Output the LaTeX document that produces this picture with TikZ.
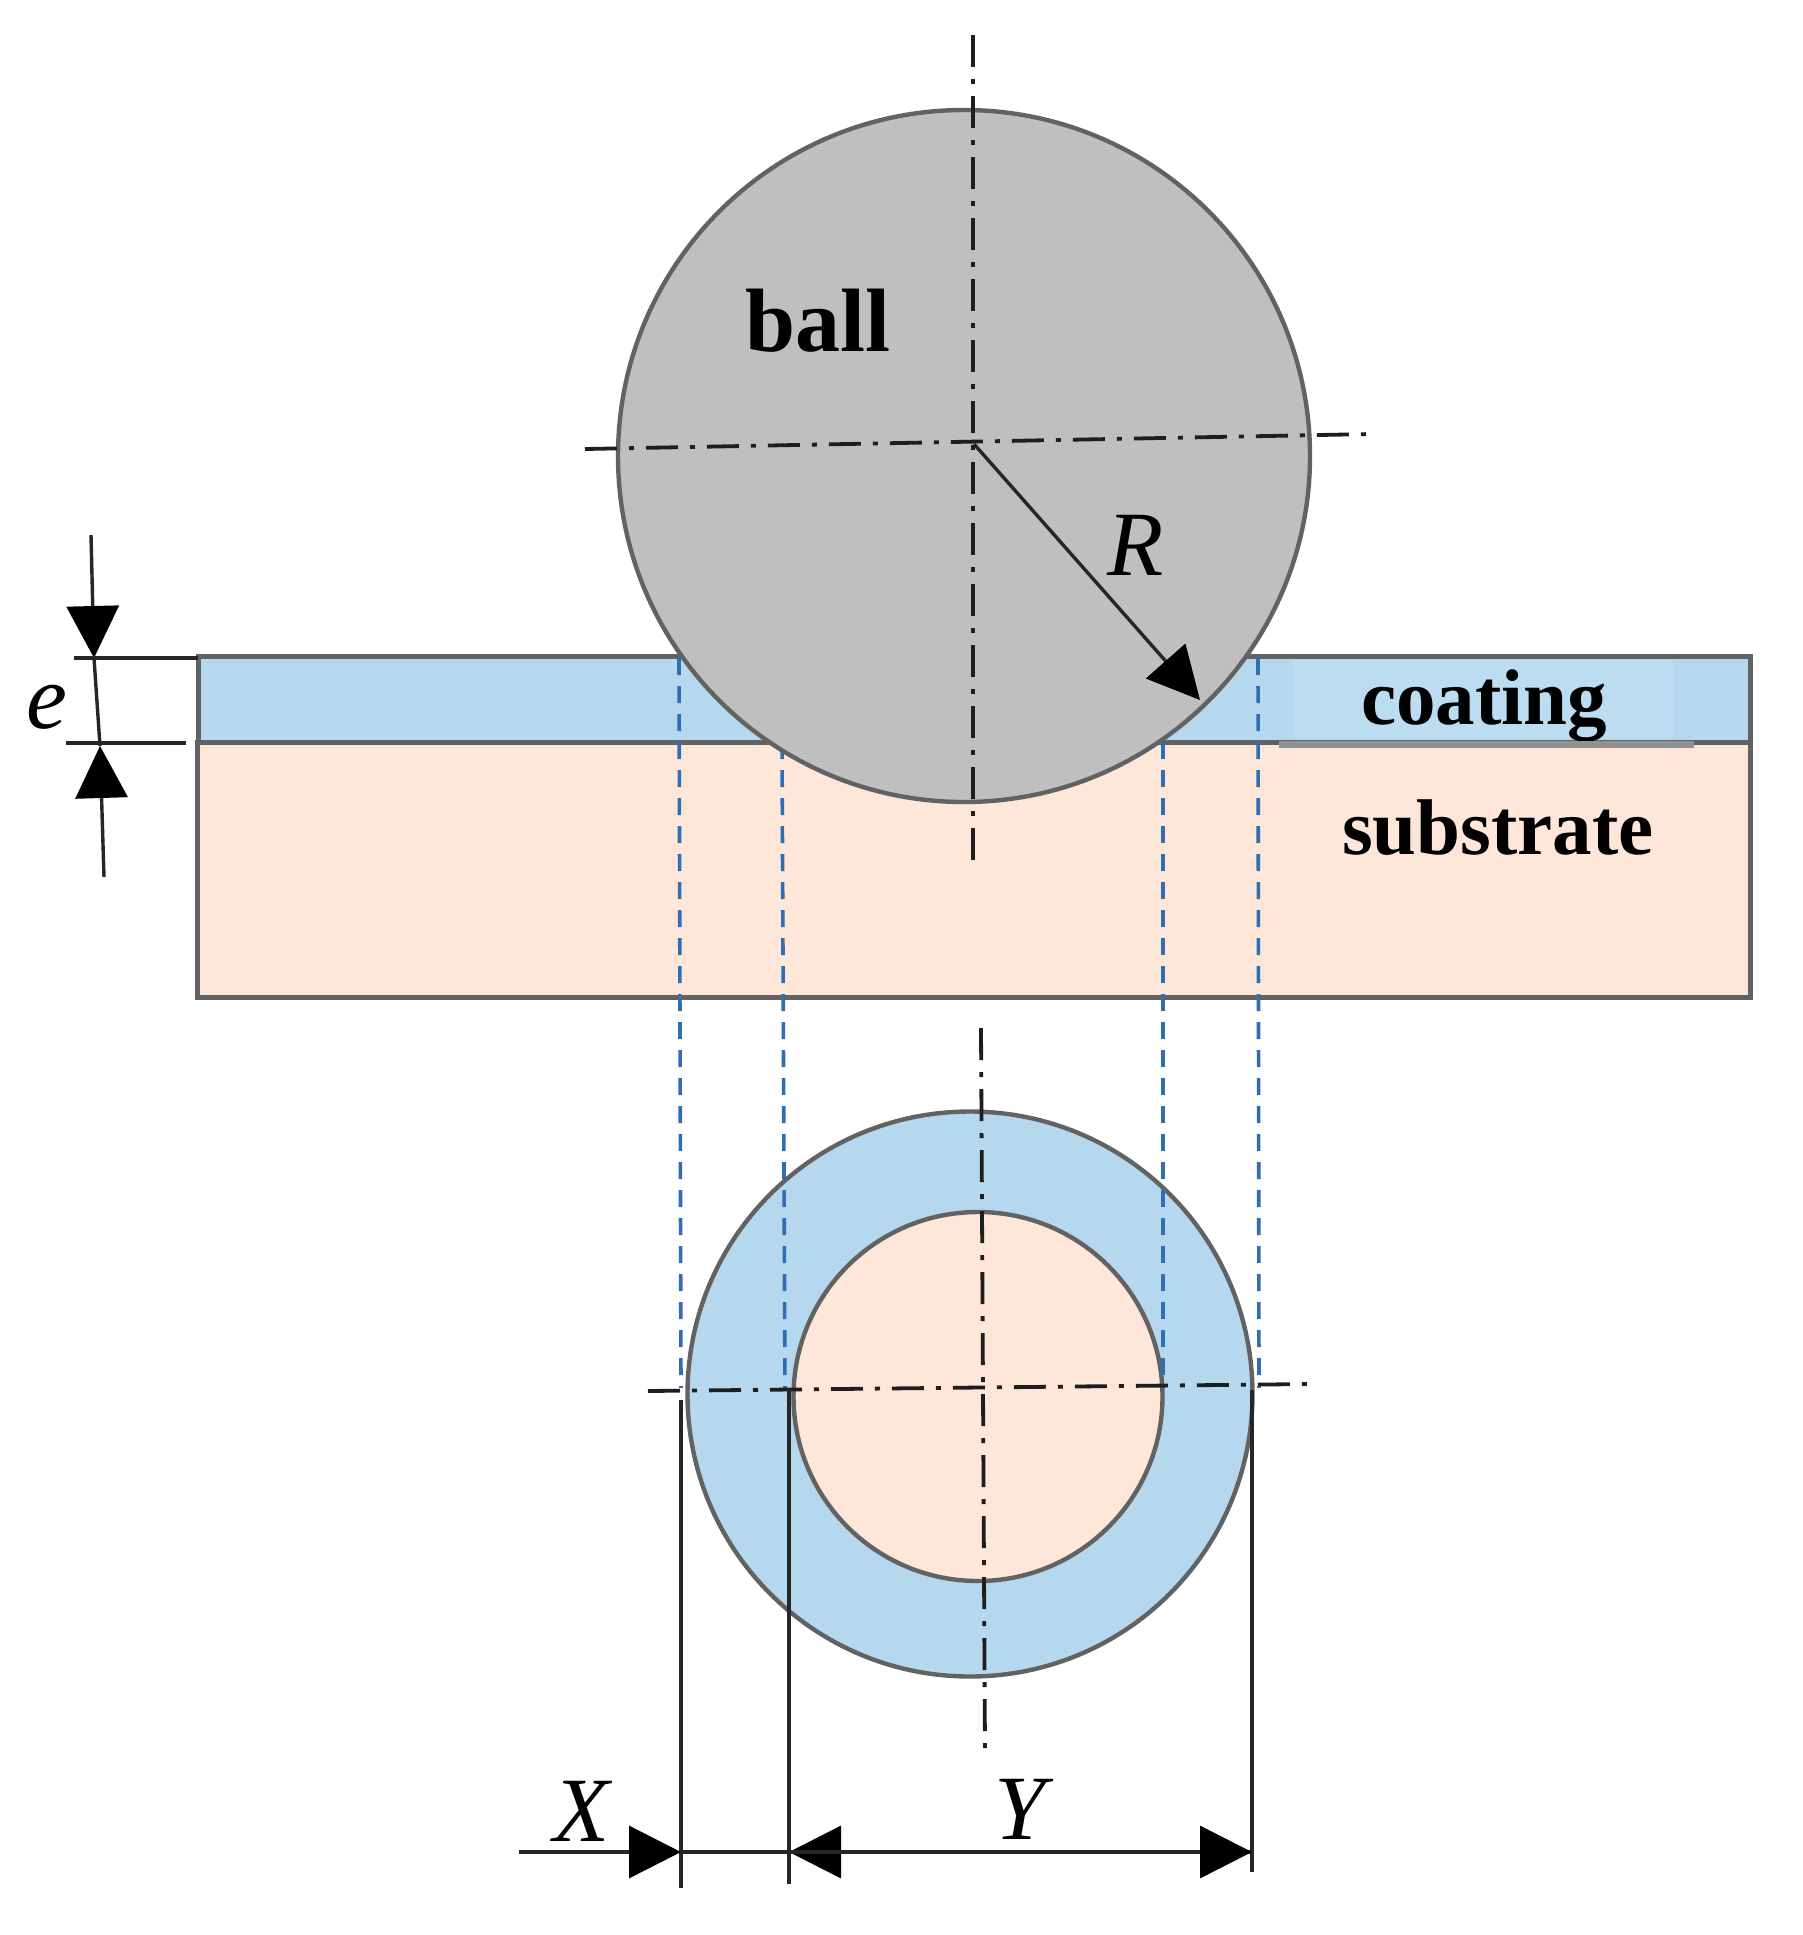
\documentclass[tikz,border=0pt]{standalone}
\usepackage{fontspec}
\setmainfont{Liberation Serif}
\definecolor{edgecolor}{HTML}{626262}
\definecolor{ballcolor}{HTML}{BFBFBF}
\definecolor{coatcolor}{HTML}{B5D8EF}
\definecolor{patchcolor}{HTML}{BBDCF1}
\definecolor{subcolor}{HTML}{FEE6D8}
\definecolor{dashcolor}{HTML}{2F6DB5}
\definecolor{axiscolor}{HTML}{1E1E1E}
\usetikzlibrary{arrows.meta,positioning}
\tikzset{
	disc/.style={
		circle,
		draw=edgecolor,
		line width=2.2pt,
		inner sep=0pt,
		outer sep=0pt
	},
	layer/.style={
		draw=edgecolor,
		line width=2.5pt
	},
	word/.style={
		font=\bfseries\fontsize{39.5}{44}\selectfont,
		inner sep=0pt
	},
	symbol/.style={
		font=\itshape\fontsize{46}{50}\selectfont,
		inner sep=0pt
	},
	axis/.style={
		draw=axiscolor,
		line width=1.9pt,
		dash pattern=on 16pt off 6pt on 2.5pt off 6pt
	},
	guide/.style={
		draw=dashcolor,
		line width=1.8pt,
		dash pattern=on 8.5pt off 5.5pt
	},
	dim/.style={
		draw=black!85,
		line width=1.7pt
	},
	arrow/.style={
		dim,
		-{Triangle[length=26pt,width=26pt,color=black,fill=black]}
	},
}
\begin{document}
\begin{tikzpicture}[x=0.5pt,y=-0.5pt]
\useasboundingbox (0,0) rectangle (1803,1935);
% lower view
\node[disc,fill=coatcolor,minimum size=282.5pt] (outer) at (970,1394) {};
\node[disc,fill=subcolor,minimum size=184.5pt] (inner) at (978,1396.5) {};
% layers
\draw[layer,fill=subcolor] (197,742) rectangle (1750,997);
\draw[layer,fill=coatcolor] (198,656) rectangle (1750,742);
\node[word,fill=patchcolor,minimum width=190pt,minimum height=39pt] (coating) at (1483,699) {};
\node[word] (coatingtext) at (1484,706) {coating};
\fill[edgecolor!70] (1279,741) rectangle (1694,748);
\node[word] (substrate) at (1498,828) {substrate};
% guides
\foreach \gx/\gy/\gz in {679/658/681,782/742/785,1163/742/1163,1258/658/1259}
	\draw[guide] (\gx,\gy) -- (\gz,1388);
% ball
\node[disc,fill=ballcolor,minimum size=346pt] (ball) at (964,456) {};
\node[word,font=\bfseries\fontsize{45}{50}\selectfont] (balltext) at (818,321) {ball};
% center lines
\draw[axis] (973,35) -- (973,865);
\draw[axis] (585,449) -- (1372,434);
\draw[axis] (981,1028) -- (985,1752);
\draw[axis] (648,1391) -- (1312,1384);
% radius
\coordinate (rstart) at (974,444);
\coordinate (rend) at (1200,700);
\draw[arrow] (rstart) -- (rend);
\node[symbol] (rlabel) at (1136,545) {R};
% thickness
\coordinate (etop) at (91,535);
\coordinate (etip) at (94,658);
\coordinate (ebot) at (104,877);
\coordinate (emid) at (100,746);
\draw[arrow] (etop) -- (etip);
\draw[arrow] (ebot) -- (emid);
\draw[dim] (etip) -- (emid);
\draw[dim,line width=2.2pt] (74,658) -- (198,658);
\draw[dim,line width=2.2pt] (66,743) -- (186,743);
\node[symbol] (elabel) at (47,707) {e};
% widths
\coordinate (xstart) at (519,1852);
\coordinate (xa) at (681,1852);
\coordinate (xb) at (789,1852);
\coordinate (xc) at (1252,1852);
\draw[dim] (681,1400) -- (681,1888);
\draw[dim] (789,1388) -- (789,1884);
\draw[dim] (1252,1390) -- (1252,1872);
\draw[arrow] (xstart) -- (xa);
\draw[dim] (xa) -- (xb);
\draw[arrow] (xc) -- (xb);
\draw[arrow] (xb) -- (xc);
\node[symbol] (xlabel) at (582,1811) {X};
\node[symbol] (ylabel) at (1020,1809) {Y};
\end{tikzpicture}
\end{document}
